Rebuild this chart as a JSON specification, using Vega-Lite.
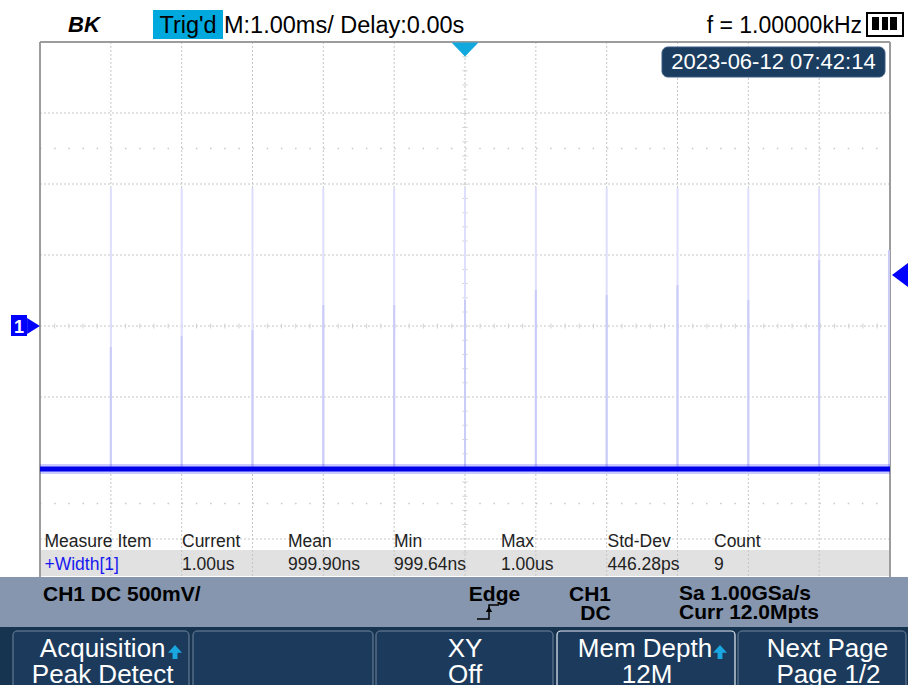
{
  "$schema": "https://vega.github.io/schema/vega-lite/v6.json",
  "width": 908,
  "height": 685,
  "padding": 0,
  "autosize": {"type": "none"},
  "background": "white",
  "config": {"view": {"stroke": null}, "text": {"font": "Liberation Sans"}},
  "encoding": {
    "x": {"field": "x", "type": "quantitative", "scale": {"domain": [-6.5647, 6.2541], "nice": false, "zero": false}, "axis": null},
    "y": {"field": "y", "type": "quantitative", "scale": {"domain": [-2.5282, 2.2958], "nice": false, "zero": false}, "axis": null}
  },
  "layer": [
    {
      "data": {"values": [{"x": -5.9859, "x2": 6, "y": -1.5775, "y2": -1.7606}]},
      "mark": {"type": "rect", "fill": "#e1e1e1"},
      "encoding": {"x2": {"field": "x2"}, "y2": {"field": "y2"}}
    },
    {
      "data": {"values": [
        {"x": -5, "x2": -5, "y": 2.0, "y2": -1.7676}, {"x": -4, "x2": -4, "y": 2.0, "y2": -1.7676},
        {"x": -3, "x2": -3, "y": 2.0, "y2": -1.7676}, {"x": -2, "x2": -2, "y": 2.0, "y2": -1.7676},
        {"x": -1, "x2": -1, "y": 2.0, "y2": -1.7676}, {"x": 0, "x2": 0, "y": 2.0, "y2": -1.7676},
        {"x": 1, "x2": 1, "y": 2.0, "y2": -1.7676}, {"x": 2, "x2": 2, "y": 2.0, "y2": -1.7676},
        {"x": 3, "x2": 3, "y": 2.0, "y2": -1.7676}, {"x": 4, "x2": 4, "y": 2.0, "y2": -1.7676},
        {"x": 5, "x2": 5, "y": 2.0, "y2": -1.7676},
        {"x": -6, "x2": 6, "y": 1.5, "y2": 1.5}, {"x": -6, "x2": 6, "y": 1.0, "y2": 1.0},
        {"x": -6, "x2": 6, "y": 0.5, "y2": 0.5}, {"x": -6, "x2": 6, "y": 0, "y2": 0},
        {"x": -6, "x2": 6, "y": -0.5, "y2": -0.5}, {"x": -6, "x2": 6, "y": -1.0, "y2": -1.0},
        {"x": -6, "x2": 6, "y": -1.5, "y2": -1.5}
      ]},
      "mark": {"type": "rule", "stroke": "#c6c6c6", "strokeWidth": 1, "strokeDash": [2, 2]},
      "encoding": {"x2": {"field": "x2"}, "y2": {"field": "y2"}}
    },
    {
      "data": {"values": [
        {"x": -6, "x2": 6, "y": 1.25, "y2": 1.25}, {"x": -6, "x2": 6, "y": -1.25, "y2": -1.25}
      ]},
      "mark": {"type": "rule", "stroke": "#c8c8c8", "strokeWidth": 1.5, "strokeDash": [1.5, 12.67]},
      "encoding": {"x2": {"field": "x2"}, "y2": {"field": "y2"}}
    },
    {
      "data": {"values": [
        {"x": 0, "x2": 0, "y": 2.0, "y2": -1.7676}, {"x": -6, "x2": 6, "y": 0, "y2": 0}
      ]},
      "mark": {"type": "rule", "stroke": "#d2d2d2", "strokeWidth": 5, "strokeDash": [1, 13.18]},
      "encoding": {"x2": {"field": "x2"}, "y2": {"field": "y2"}}
    },
    {
      "data": {"values": [
        {"x": -6, "x2": -6, "y": 2.0, "y2": -1.7676},
        {"x": -6, "x2": 6, "y": 2.0, "y2": 2.0},
        {"x": 6, "x2": 6, "y": 2.0, "y2": -1.7676}
      ]},
      "mark": {"type": "rule", "stroke": "#9c9c9c", "strokeWidth": 2},
      "encoding": {"x2": {"field": "x2"}, "y2": {"field": "y2"}}
    },
    {
      "data": {"values": [
        {"x": -5, "x2": -5, "y": -1.0, "y2": 0.972}, {"x": -4, "x2": -4, "y": -1.0, "y2": 0.972},
        {"x": -3, "x2": -3, "y": -1.0, "y2": 0.972}, {"x": -2, "x2": -2, "y": -1.0, "y2": 0.972},
        {"x": -1, "x2": -1, "y": -1.0, "y2": 0.972}, {"x": 0, "x2": 0, "y": -1.0, "y2": 0.972},
        {"x": 1, "x2": 1, "y": -1.0, "y2": 0.972}, {"x": 2, "x2": 2, "y": -1.0, "y2": 0.972},
        {"x": 3, "x2": 3, "y": -1.0, "y2": 0.972}, {"x": 4, "x2": 4, "y": -1.0, "y2": 0.972},
        {"x": 5, "x2": 5, "y": -1.0, "y2": 0.972}
      ]},
      "mark": {"type": "rule", "stroke": "#dedeff", "strokeWidth": 2},
      "encoding": {"x2": {"field": "x2"}, "y2": {"field": "y2"}}
    },
    {
      "data": {"values": [
        {"x": -5, "x2": -5, "y": -1.0, "y2": -0.148}, {"x": -4, "x2": -4, "y": -1.0, "y2": -0.07},
        {"x": -3, "x2": -3, "y": -1.0, "y2": -0.028}, {"x": -2, "x2": -2, "y": -1.0, "y2": 0.148},
        {"x": -1, "x2": -1, "y": -1.0, "y2": 0.148}, {"x": 0, "x2": 0, "y": -1.0, "y2": 0.183},
        {"x": 1, "x2": 1, "y": -1.0, "y2": 0.254}, {"x": 2, "x2": 2, "y": -1.0, "y2": 0.218},
        {"x": 3, "x2": 3, "y": -1.0, "y2": 0.289}, {"x": 4, "x2": 4, "y": -1.0, "y2": 0.183},
        {"x": 5, "x2": 5, "y": -1.0, "y2": 0.465}, {"x": 5.985, "x2": 5.985, "y": -1.0, "y2": 0.535}
      ]},
      "mark": {"type": "rule", "stroke": "#cbcbf7", "strokeWidth": 2},
      "encoding": {"x2": {"field": "x2"}, "y2": {"field": "y2"}}
    },
    {
      "data": {"values": [{"x": -6, "x2": 6, "y": -1.007, "y2": -1.007}]},
      "mark": {"type": "rule", "stroke": "#2a2aff", "strokeWidth": 10, "opacity": 0.25},
      "encoding": {"x2": {"field": "x2"}, "y2": {"field": "y2"}}
    },
    {
      "data": {"values": [{"x": -6, "x2": 6, "y": -1.007, "y2": -1.007}]},
      "mark": {"type": "rule", "stroke": "#0000e8", "strokeWidth": 5},
      "encoding": {"x2": {"field": "x2"}, "y2": {"field": "y2"}}
    },
    {
      "data": {"values": [{"x": -4.4047, "x2": -3.4165, "y": 2.2254, "y2": 2.0211}]},
      "mark": {"type": "rect", "fill": "#00a9dd"},
      "encoding": {"x2": {"field": "x2"}, "y2": {"field": "y2"}}
    },
    {
      "data": {"values": [{"x": 2.7812, "x2": 5.9294, "y": 1.9648, "y2": 1.7535}]},
      "mark": {"type": "rect", "fill": "#1b3d60", "stroke": "#3c5d80", "strokeWidth": 1, "cornerRadius": 6},
      "encoding": {"x2": {"field": "x2"}, "y2": {"field": "y2"}}
    },
    {
      "data": {"values": [{"x": 5.6753, "x2": 6.1835, "y": 2.2042, "y2": 2.0423}]},
      "mark": {"type": "rect", "fill": "white", "stroke": "black", "strokeWidth": 2},
      "encoding": {"x2": {"field": "x2"}, "y2": {"field": "y2"}}
    },
    {
      "data": {"values": [
        {"x": 5.7459, "x2": 5.8447, "y": 2.1761, "y2": 2.0845},
        {"x": 5.8871, "x2": 5.9718, "y": 2.1761, "y2": 2.0845},
        {"x": 6.0, "x2": 6.0988, "y": 2.1761, "y2": 2.0845}
      ]},
      "mark": {"type": "rect", "fill": "black"},
      "encoding": {"x2": {"field": "x2"}, "y2": {"field": "y2"}}
    },
    {
      "data": {"values": [{"x": -6.4094, "x2": -6.1835, "y": 0.0775, "y2": -0.0704}]},
      "mark": {"type": "rect", "fill": "#0000ff"},
      "encoding": {"x2": {"field": "x2"}, "y2": {"field": "y2"}}
    },
    {
      "data": {"values": [{"x": -6.5647, "x2": 6.2541, "y": -1.7676, "y2": -2.1197}]},
      "mark": {"type": "rect", "fill": "#8596ae"},
      "encoding": {"x2": {"field": "x2"}, "y2": {"field": "y2"}}
    },
    {
      "data": {"values": [{"x": -6.5647, "x2": 6.2541, "y": -2.1197, "y2": -2.5282}]},
      "mark": {"type": "rect", "fill": "#163350"},
      "encoding": {"x2": {"field": "x2"}, "y2": {"field": "y2"}}
    },
    {
      "data": {"values": [
        {"x": -6.3812, "x2": -3.8965, "y": -2.1479, "y2": -2.62},
        {"x": -3.84, "x2": -1.2988, "y": -2.1479, "y2": -2.62},
        {"x": -1.2565, "x2": 1.2424, "y": -2.1479, "y2": -2.62},
        {"x": 3.8541, "x2": 6.2259, "y": -2.1479, "y2": -2.62}
      ]},
      "mark": {"type": "rect", "fill": "#1c3b5c", "stroke": "#72869e", "strokeWidth": 1, "cornerRadius": 4},
      "encoding": {"x2": {"field": "x2"}, "y2": {"field": "y2"}}
    },
    {
      "data": {"values": [{"x": 1.2988, "x2": 3.8118, "y": -2.1479, "y2": -2.62}]},
      "mark": {"type": "rect", "fill": "#1c3b5c", "stroke": "#e8eef5", "strokeWidth": 1.2, "cornerRadius": 4},
      "encoding": {"x2": {"field": "x2"}, "y2": {"field": "y2"}}
    },
    {
      "data": {"values": [{"x": 0, "y": 1.9472}]},
      "mark": {"type": "point", "shape": "M-1,-0.52L1,-0.52L0,0.52Z", "size": 729, "filled": true, "fill": "#10a8dd", "opacity": 1, "strokeWidth": 0}
    },
    {
      "data": {"values": [{"x": -6.0918, "y": 0}]},
      "mark": {"type": "point", "shape": "M-0.8,-1L0.8,0L-0.8,1Z", "size": 256, "filled": true, "fill": "#0000ff", "opacity": 1, "strokeWidth": 0}
    },
    {
      "data": {"values": [{"x": 6.1412, "y": 0.3592}]},
      "mark": {"type": "point", "shape": "M-1,0L1,-1.5L1,1.5Z", "size": 256, "filled": true, "fill": "#0000ff", "opacity": 1, "strokeWidth": 0}
    },
    {
      "data": {"values": [{"x": -4.0941, "y": -2.2958}, {"x": 3.6, "y": -2.2958}]},
      "mark": {"type": "point", "shape": "M0,-1L1,0.1L0.35,0.1L0.35,1L-0.35,1L-0.35,0.1L-1,0.1Z", "size": 196, "filled": true, "fill": "#1aa7e0", "opacity": 1, "strokeWidth": 0}
    },
    {
      "data": {"values": [
        {"x": 0.1694, "y": -2.0634, "i": 0}, {"x": 0.3388, "y": -2.0634, "i": 1},
        {"x": 0.3388, "y": -1.9648, "i": 2}, {"x": 0.48, "y": -1.9648, "i": 3}
      ]},
      "mark": {"type": "line", "stroke": "black", "strokeWidth": 1.5},
      "encoding": {"order": {"field": "i", "type": "quantitative"}}
    },
    {
      "data": {"values": [{"x": 0.3388, "y": -1.995}]},
      "mark": {"type": "point", "shape": "triangle-up", "size": 40, "filled": true, "fill": "black", "opacity": 1, "strokeWidth": 0}
    },
    {
      "data": {"values": [{"x": -5.3788, "y": 2.0704, "label": "BK"}]},
      "mark": {"type": "text", "align": "center", "baseline": "alphabetic", "fontSize": 22, "fontWeight": "bold", "fontStyle": "italic", "fill": "black"},
      "encoding": {"text": {"field": "label"}}
    },
    {
      "data": {"values": [{"x": -3.9106, "y": 2.0634, "label": "Trig'd"}]},
      "mark": {"type": "text", "align": "center", "baseline": "alphabetic", "fontSize": 23.5, "fill": "black"},
      "encoding": {"text": {"field": "label"}}
    },
    {
      "data": {"values": [{"x": -3.4024, "y": 2.0634, "label": "M:1.00ms/ Delay:0.00s"}]},
      "mark": {"type": "text", "align": "left", "baseline": "alphabetic", "fontSize": 23.5, "fill": "black"},
      "encoding": {"text": {"field": "label"}}
    },
    {
      "data": {"values": [{"x": 5.6047, "y": 2.0634, "label": "f = 1.00000kHz"}]},
      "mark": {"type": "text", "align": "right", "baseline": "alphabetic", "fontSize": 23, "fill": "black"},
      "encoding": {"text": {"field": "label"}}
    },
    {
      "data": {"values": [{"x": 4.3553, "y": 1.8134, "label": "2023-06-12 07:42:14"}]},
      "mark": {"type": "text", "align": "center", "baseline": "alphabetic", "fontSize": 22, "fill": "white"},
      "encoding": {"text": {"field": "label"}}
    },
    {
      "data": {"values": [{"x": -6.2965, "y": -0.0493, "label": "1"}]},
      "mark": {"type": "text", "align": "center", "baseline": "alphabetic", "fontSize": 18, "fontWeight": "bold", "fill": "white"},
      "encoding": {"text": {"field": "label"}}
    },
    {
      "data": {"values": [
        {"x": -5.9365, "y": -1.5563, "label": "Measure Item"},
        {"x": -3.9953, "y": -1.5563, "label": "Current"},
        {"x": -2.4988, "y": -1.5563, "label": "Mean"},
        {"x": -1.0024, "y": -1.5563, "label": "Min"},
        {"x": 0.5082, "y": -1.5563, "label": "Max"},
        {"x": 2.0118, "y": -1.5563, "label": "Std-Dev"},
        {"x": 3.5153, "y": -1.5563, "label": "Count"},
        {"x": -3.9953, "y": -1.7183, "label": "1.00us"},
        {"x": -2.4988, "y": -1.7183, "label": "999.90ns"},
        {"x": -1.0024, "y": -1.7183, "label": "999.64ns"},
        {"x": 0.5082, "y": -1.7183, "label": "1.00us"},
        {"x": 2.0118, "y": -1.7183, "label": "446.28ps"},
        {"x": 3.5153, "y": -1.7183, "label": "9"}
      ]},
      "mark": {"type": "text", "align": "left", "baseline": "alphabetic", "fontSize": 17.5, "fill": "#222222"},
      "encoding": {"text": {"field": "label"}}
    },
    {
      "data": {"values": [{"x": -5.9365, "y": -1.7183, "label": "+Width[1]"}]},
      "mark": {"type": "text", "align": "left", "baseline": "alphabetic", "fontSize": 17.5, "fill": "#1818f0"},
      "encoding": {"text": {"field": "label"}}
    },
    {
      "data": {"values": [
        {"x": -5.9576, "y": -1.9366, "label": "CH1 DC 500mV/"},
        {"x": 3.0212, "y": -1.9296, "label": "Sa 1.00GSa/s"},
        {"x": 3.0212, "y": -2.0634, "label": "Curr 12.0Mpts"}
      ]},
      "mark": {"type": "text", "align": "left", "baseline": "alphabetic", "fontSize": 21, "fontWeight": "bold", "fill": "black"},
      "encoding": {"text": {"field": "label"}}
    },
    {
      "data": {"values": [
        {"x": 0.4165, "y": -1.9366, "label": "Edge"},
        {"x": 1.7647, "y": -1.9366, "label": "CH1"},
        {"x": 1.8424, "y": -2.0704, "label": "DC"}
      ]},
      "mark": {"type": "text", "align": "center", "baseline": "alphabetic", "fontSize": 21, "fontWeight": "bold", "fill": "black"},
      "encoding": {"text": {"field": "label"}}
    },
    {
      "data": {"values": [
        {"x": -5.115, "y": -2.331, "label": "Acquisition"},
        {"x": -5.115, "y": -2.5141, "label": "Peak Detect"},
        {"x": 0, "y": -2.331, "label": "XY"},
        {"x": 0, "y": -2.5141, "label": "Off"},
        {"x": 2.5412, "y": -2.331, "label": "Mem Depth"},
        {"x": 2.5694, "y": -2.5141, "label": "12M"},
        {"x": 5.1176, "y": -2.331, "label": "Next Page"},
        {"x": 5.1318, "y": -2.5141, "label": "Page 1/2"}
      ]},
      "mark": {"type": "text", "align": "center", "baseline": "alphabetic", "fontSize": 26, "fill": "white"},
      "encoding": {"text": {"field": "label"}}
    }
  ]
}
